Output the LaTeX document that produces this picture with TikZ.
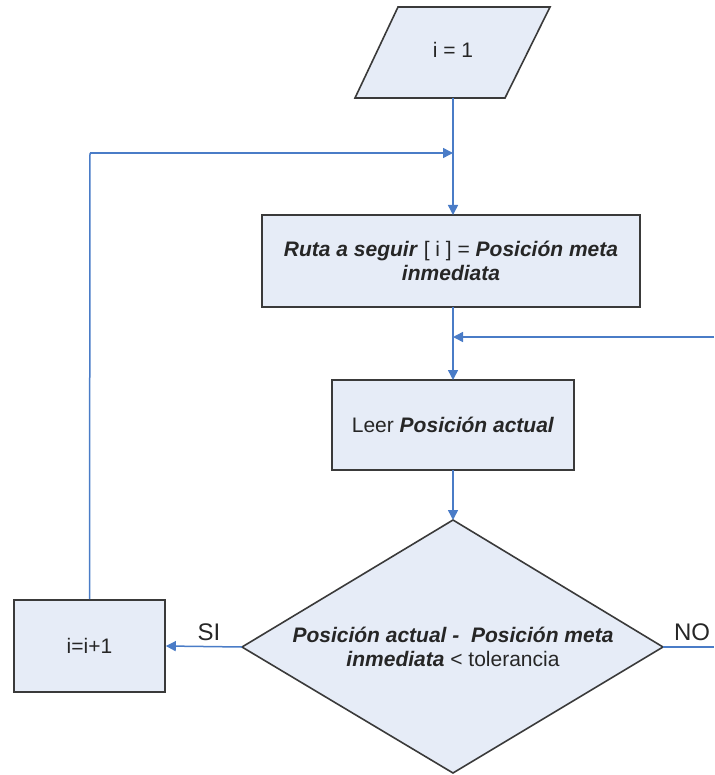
\documentclass[tikz,border=0pt]{standalone}
\usepackage{fontspec}
\setmainfont{Liberation Sans}
\usetikzlibrary{arrows.meta,shapes.geometric}
\definecolor{boxfill}{HTML}{E6ECF7}
\definecolor{linecol}{HTML}{4A7CC7}
\definecolor{bordercol}{HTML}{3A3A3A}
\definecolor{txt}{HTML}{262626}
\tikzset{
  box/.style={draw=bordercol,line width=1.6pt,fill=boxfill,text=txt,align=center,font=\fontsize{21}{24}\selectfont},
  conn/.style={draw=linecol,line width=1.5pt,-{Triangle[width=10pt,length=10pt]}},
  plain/.style={draw=linecol,line width=1.5pt},
  lbl/.style={text=txt,font=\fontsize{24}{26}\selectfont},
}
\newcommand{\bi}[1]{\textbf{\textit{#1}}}
\begin{document}
\begin{tikzpicture}[x=1pt,y=-1pt]
\useasboundingbox (0,0) rectangle (714,775);
% parallelogram
\path[box] (398,7) -- (550,7) -- (505,98) -- (355,98) -- cycle;
\node[text=txt,font=\fontsize{21}{24}\selectfont] (start) at (453,50) {i = 1};
\coordinate (startb) at (453,98);
% box 1
\node[box,minimum width=378pt,minimum height=92pt,inner sep=0pt] (b1) at (451,261) {\bi{Ruta a seguir} [ i ] = \bi{Posición meta}\\\bi{inmediata}};
% box 2
\node[box,minimum width=242pt,minimum height=90pt,inner sep=0pt] (b2) at (453,425) {Leer \bi{Posición actual}};
% diamond
\path[box] (453,520) -- (663,647) -- (453,773) -- (242,647) -- cycle;
\node[text=txt,align=center,font=\fontsize{21}{24}\selectfont] (dec) at (453,647) {\bi{Posición actual -\ \ Posición meta}\\\bi{inmediata} < tolerancia};
\coordinate (dtop) at (453,520);
\coordinate (dleft) at (242,647);
\coordinate (dright) at (663,647);
% box i=i+1
\node[box,minimum width=151pt,minimum height=92pt,inner sep=0pt] (b3) at (89.5,646) {i=i+1};
% coordinates
\coordinate (j1) at (453,153);
\coordinate (loopL) at (90,153);
\coordinate (j2) at (453,337);
\coordinate (rin) at (714,337);
\coordinate (rout) at (714,647);
% connectors
\draw[plain] (startb) -- (j1);
\draw[conn] (j1) -- (453,215);
\draw[plain] (453,307) -- (j2);
\draw[conn] (j2) -- (453,380);
\draw[conn] (rin) -- (j2);
\draw[conn] (453,470) -- (dtop);
\draw[conn] (dleft) -- (b3.east);
\draw[plain] (b3.north) -- (loopL);
\draw[conn] (loopL) -- (j1);
\draw[plain] (dright) -- (rout);
% labels
\node[lbl] (si) at (209,632) {SI};
\node[lbl] (no) at (692,632) {NO};
\end{tikzpicture}
\end{document}
